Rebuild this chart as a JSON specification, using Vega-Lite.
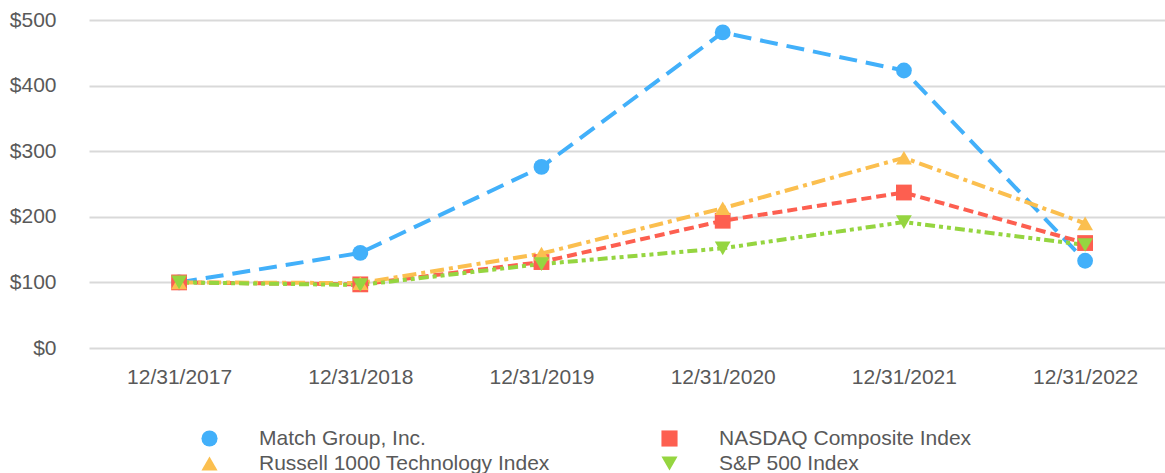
{
  "$schema": "https://vega.github.io/schema/vega-lite/v6.json",
  "width": 1076,
  "height": 328,
  "autosize": {"type": "none"},
  "padding": {"left": 89, "top": 20, "right": 0, "bottom": 125},
  "background": "white",
  "config": {
    "view": {"stroke": null},
    "font": "Liberation Sans"
  },
  "data": {
    "values": [
      {"date": "12/31/2017", "series": "Match Group, Inc.", "value": 100},
      {"date": "12/31/2018", "series": "Match Group, Inc.", "value": 145},
      {"date": "12/31/2019", "series": "Match Group, Inc.", "value": 276},
      {"date": "12/31/2020", "series": "Match Group, Inc.", "value": 481},
      {"date": "12/31/2021", "series": "Match Group, Inc.", "value": 423},
      {"date": "12/31/2022", "series": "Match Group, Inc.", "value": 133},
      {"date": "12/31/2017", "series": "NASDAQ Composite Index", "value": 100},
      {"date": "12/31/2018", "series": "NASDAQ Composite Index", "value": 97},
      {"date": "12/31/2019", "series": "NASDAQ Composite Index", "value": 131},
      {"date": "12/31/2020", "series": "NASDAQ Composite Index", "value": 194},
      {"date": "12/31/2021", "series": "NASDAQ Composite Index", "value": 237},
      {"date": "12/31/2022", "series": "NASDAQ Composite Index", "value": 160},
      {"date": "12/31/2017", "series": "Russell 1000 Technology Index", "value": 100},
      {"date": "12/31/2018", "series": "Russell 1000 Technology Index", "value": 99},
      {"date": "12/31/2019", "series": "Russell 1000 Technology Index", "value": 144},
      {"date": "12/31/2020", "series": "Russell 1000 Technology Index", "value": 213},
      {"date": "12/31/2021", "series": "Russell 1000 Technology Index", "value": 290},
      {"date": "12/31/2022", "series": "Russell 1000 Technology Index", "value": 190},
      {"date": "12/31/2017", "series": "S&P 500 Index", "value": 100},
      {"date": "12/31/2018", "series": "S&P 500 Index", "value": 96},
      {"date": "12/31/2019", "series": "S&P 500 Index", "value": 128},
      {"date": "12/31/2020", "series": "S&P 500 Index", "value": 152},
      {"date": "12/31/2021", "series": "S&P 500 Index", "value": 192},
      {"date": "12/31/2022", "series": "S&P 500 Index", "value": 157}
    ]
  },
  "encoding": {
    "x": {
      "field": "date", "type": "nominal", "sort": null, "title": null,
      "scale": {"type": "point", "padding": 0.469, "align": 0.53},
      "axis": {"labelAngle": 0, "domain": false, "ticks": false, "grid": false, "labelFontSize": 21, "labelColor": "#595959", "labelPadding": 18, "labelFont": "Liberation Sans"}
    },
    "y": {
      "field": "value", "type": "quantitative", "title": null,
      "scale": {"domain": [0, 500], "nice": false},
      "axis": {"values": [0, 100, 200, 300, 400, 500], "labelExpr": "'$' + datum.value", "domain": false, "ticks": false, "grid": true, "gridColor": "#d9d9d9", "gridWidth": 2, "labelFontSize": 21, "labelColor": "#595959", "labelPadding": 33, "labelFont": "Liberation Sans"}
    },
    "color": {
      "field": "series", "type": "nominal",
      "scale": {"domain": ["Match Group, Inc.", "NASDAQ Composite Index", "Russell 1000 Technology Index", "S&P 500 Index"], "range": ["#42b0fa", "#fd5f50", "#fbbf4f", "#95d540"]},
      "legend": {
        "orient": "none", "legendX": 110, "legendY": 408, "direction": "horizontal",
        "title": null, "columns": 2, "columnPadding": 109, "rowPadding": 3,
        "symbolSize": 260, "clipHeight": 21, "labelOffset": 39,
        "labelFontSize": 21, "labelColor": "#595959", "labelFont": "Liberation Sans", "labelLimit": 400,
        "symbolStrokeWidth": 0, "symbolOpacity": 1
      }
    }
  },
  "layer": [
    {
      "mark": {"type": "line", "strokeWidth": 4},
      "encoding": {
        "strokeDash": {
          "field": "series", "type": "nominal", "legend": null,
          "scale": {"domain": ["Match Group, Inc.", "NASDAQ Composite Index", "Russell 1000 Technology Index", "S&P 500 Index"], "range": [[18, 9], [10, 5], [14, 5, 4, 5], [10, 4, 4, 4, 4, 4]]}
        }
      }
    },
    {
      "mark": {"type": "point", "filled": true, "opacity": 1},
      "encoding": {
        "shape": {
          "field": "series", "type": "nominal", "legend": null,
          "scale": {"domain": ["Match Group, Inc.", "NASDAQ Composite Index", "Russell 1000 Technology Index", "S&P 500 Index"], "range": ["circle", "square", "triangle-up", "triangle-down"]}
        },
        "size": {"value": 250}
      }
    }
  ]
}
